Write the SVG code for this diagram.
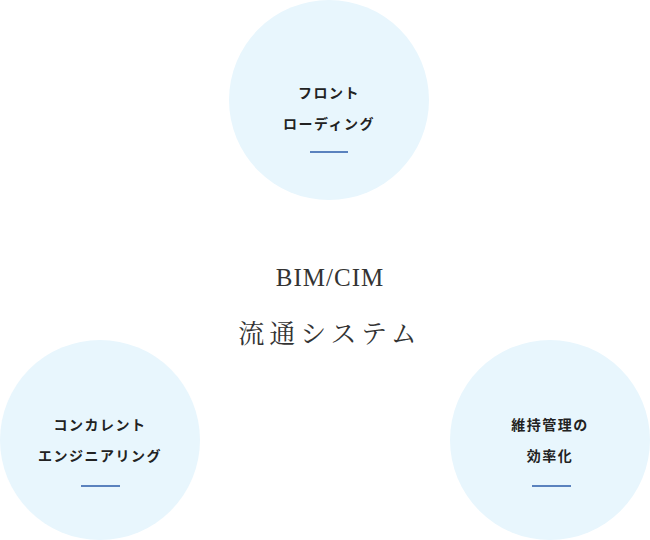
<svg xmlns="http://www.w3.org/2000/svg" width="650" height="540" viewBox="0 0 650 540">
<style>
.c{fill:#e8f6fd}
.t{font-family:"Noto Sans CJK JP","Noto Sans",sans-serif;font-size:14px;font-weight:bold;fill:#222;text-anchor:middle;letter-spacing:1.5px}
.l{stroke:#2b5ba8;stroke-width:1.5}
.m{font-family:"Liberation Serif","Noto Serif CJK JP","Noto Sans CJK JP",serif;fill:#333;text-anchor:middle}
</style>
<rect width="650" height="540" fill="#fff"/>
<g id="top"><circle class="c" cx="329" cy="100" r="100"/><text class="t" x="329" y="98">フロント</text><text class="t" x="329" y="129">ローディング</text><line class="l" x1="310" y1="152" x2="348" y2="152"/></g>
<g id="left"><circle class="c" cx="100" cy="440" r="100"/><text class="t" x="100" y="430">コンカレント</text><text class="t" x="100" y="461">エンジニアリング</text><line class="l" x1="81" y1="486" x2="120" y2="486"/></g>
<g id="right"><circle class="c" cx="550" cy="440" r="100"/><text class="t" x="550" y="430">維持管理の</text><text class="t" x="550" y="461">効率化</text><line class="l" x1="532" y1="486" x2="571" y2="486"/></g>
<g id="center"><text class="m" x="330" y="286" font-size="25" letter-spacing="1">BIM/CIM</text><text class="m" x="330" y="343" font-size="26" letter-spacing="5">流通システム</text></g>
<g id="connectors"/>
</svg>
